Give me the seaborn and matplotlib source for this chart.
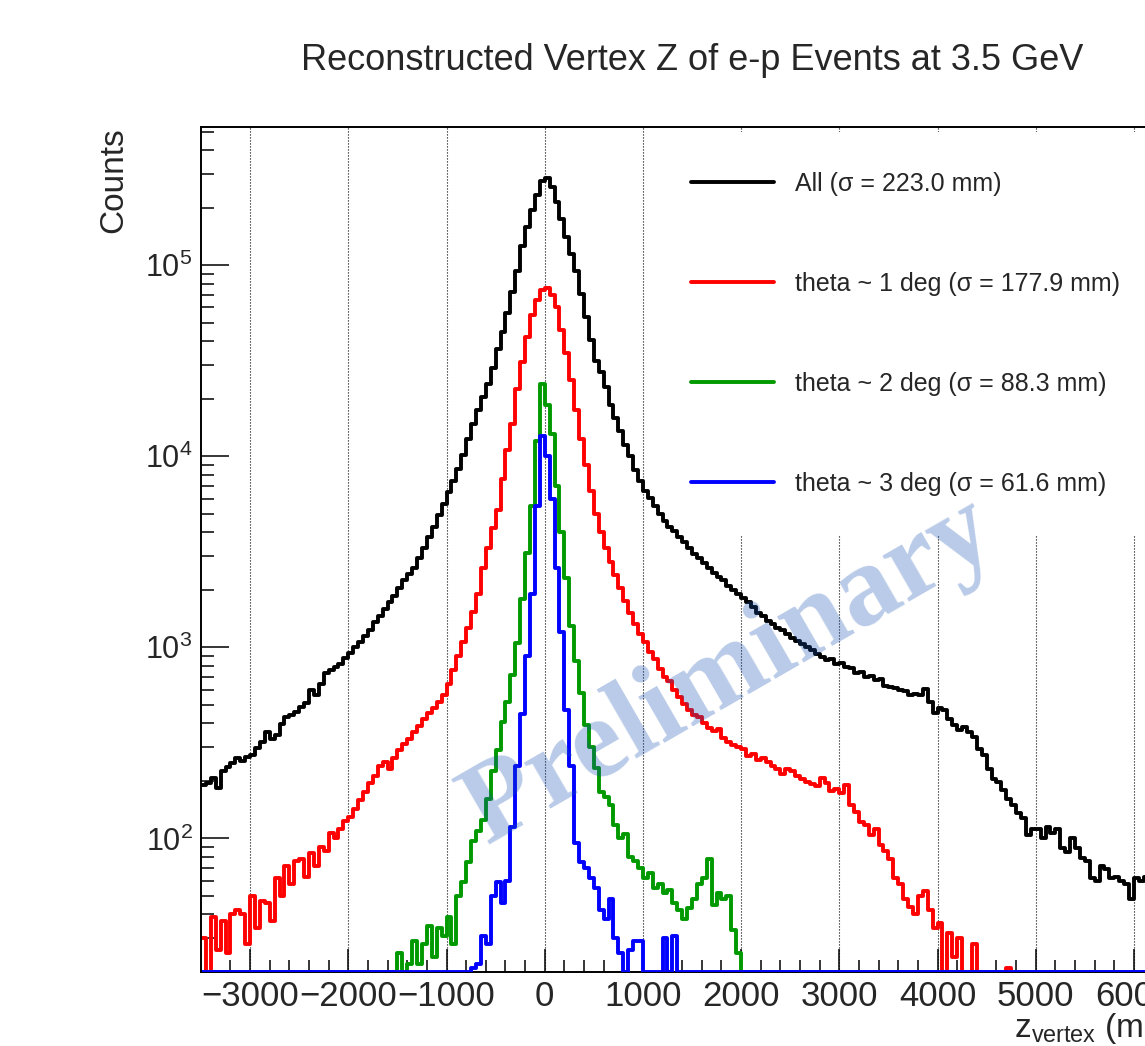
import numpy as np
import pandas as pd
import matplotlib
matplotlib.use('Agg')
import matplotlib.pyplot as plt
import seaborn as sns
from matplotlib.ticker import MultipleLocator, LogLocator, NullFormatter

# Binning of the z_vertex histograms (mm)
x_min, x_max, bin_width = -3500, 6500, 50
y_min, y_max = 20, 5.28e5

labels = ['All (σ = 223.0 mm)', 'theta ~ 1 deg (σ = 177.9 mm)',
          'theta ~ 2 deg (σ = 88.3 mm)', 'theta ~ 3 deg (σ = 61.6 mm)']
colors = ['#000000', '#ff0000', '#009900', '#0000ff']

# Counts per 50 mm bin (one row = 500 mm)
all_start = -3500
all_counts = [
    190, 196, 206, 184, 226, 236, 248, 262, 255, 268,
    272, 298, 318, 362, 330, 348, 398, 434, 442, 458,
    488, 514, 600, 562, 640, 738, 758, 790, 820, 880,
    930, 1000, 1070, 1150, 1230, 1350, 1460, 1585, 1720, 1860,
    2040, 2240, 2430, 2600, 2950, 3310, 3760, 4270, 4900, 5620,
    6460, 7410, 8600, 10200, 12300, 14800, 17400, 20400, 24000, 28800,
    36300, 44700, 56200, 72400, 93300, 126000, 158000, 195000, 234000, 275000,
    285000, 257000, 214000, 174000, 141000, 115000, 93300, 70800, 53700, 40700,
    31600, 27500, 22900, 18600, 15800, 13500, 11500, 10000, 8510, 7410,
    6610, 6030, 5500, 5010, 4570, 4270, 4070, 3800, 3550, 3310,
    3090, 2950, 2750, 2600, 2450, 2340, 2240, 2090, 2000, 1900,
    1820, 1720, 1620, 1510, 1450, 1380, 1320, 1260, 1230, 1175,
    1120, 1080, 1040, 1000, 968, 925, 895, 862, 870, 822,
    830, 790, 780, 735, 745, 700, 705, 672, 680, 630,
    620, 612, 598, 592, 566, 570, 560, 605, 520, 455,
    480, 470, 420, 392, 370, 382, 360, 340, 292, 272,
    232, 205, 198, 180, 160, 150, 136, 128, 104, 112,
    112, 100, 115, 107, 112, 89, 85, 100, 89, 79,
    76, 62, 60, 72, 69, 62, 63, 60, 58, 48,
    62, 60, 63, 58,
]

theta1_start = -3500
theta1_counts = [
    30, 18, 39, 26, 37, 25, 40, 42, 40, 28,
    50, 34, 47, 46, 37, 62, 50, 72, 58, 76,
    78, 63, 84, 72, 90, 86, 107, 100, 112, 123,
    130, 142, 158, 175, 195, 212, 240, 252, 232, 262,
    290, 311, 330, 360, 386, 420, 455, 480, 520, 562,
    640, 760, 900, 1060, 1260, 1530, 1900, 2600, 3300, 4200,
    5200, 7600, 10800, 14800, 22500, 31000, 42000, 55000, 65500, 74000,
    75500, 70000, 60000, 46000, 34500, 25000, 17500, 12300, 9000, 6600,
    5000, 4000, 3300, 2800, 2400, 2050, 1750, 1520, 1330, 1180,
    1070, 950, 870, 770, 700, 665, 600, 550, 505, 468,
    445, 430, 400, 380, 365, 372, 335, 318, 310, 302,
    295, 270, 278, 258, 262, 250, 238, 232, 218, 230,
    225, 212, 204, 198, 192, 188, 206, 196, 178, 182,
    172, 190, 150, 138, 122, 118, 104, 112, 92, 86,
    78, 62, 58, 48, 44, 40, 50, 53, 42, 34,
    36, 0, 32, 24, 30, 20, 0, 28, 0, 0,
    0, 0, 0, 0, 21,
]

theta2_start = -1500
theta2_counts = [
    25, 0, 22, 29, 22, 28, 35, 24, 34, 31,
    39, 28, 50, 59, 75, 97, 110, 125, 160, 225,
    290, 405, 520, 720, 1050, 1800, 3100, 5500, 12000, 23800,
    18500, 13000, 7000, 4000, 2300, 1300, 850, 580, 390, 300,
    235, 175, 165, 150, 118, 100, 105, 80, 76, 70,
    62, 66, 55, 58, 52, 54, 46, 42, 38, 43,
    48, 58, 62, 78, 45, 52, 48, 50, 33, 25,
]

theta3_start = -750
theta3_counts = [
    21, 22, 31, 28, 50, 59, 46, 60, 115, 240,
    450, 900, 1900, 5500, 12800,
    10000, 6000, 2600, 1200, 470, 240, 95, 75, 70, 62,
    55, 42, 38, 48, 30, 25, 0, 26, 29, 29,
    0, 0, 0, 0, 30, 0, 31,
]

n_bins = (x_max - x_min) // bin_width
centers = x_min + bin_width * (np.arange(n_bins) + 0.5)


def full_range(start, counts):
    # put the counts on the common binning, empty bins elsewhere
    h = np.zeros(n_bins)
    i0 = (start - x_min) // bin_width
    h[i0:i0 + len(counts)] = counts
    return h


series = [(all_start, all_counts), (theta1_start, theta1_counts),
          (theta2_start, theta2_counts), (theta3_start, theta3_counts)]

sns.set_style('ticks')
plt.rcParams['font.family'] = ['Liberation Sans', 'DejaVu Sans']
plt.rcParams['mathtext.fontset'] = 'custom'
plt.rcParams['mathtext.rm'] = 'Liberation Sans'

fig = plt.figure(figsize=(11.45, 10.46), dpi=100)
ax = fig.add_axes([201 / 1145, 74 / 1046, 982 / 1145, 845 / 1046])

for (start, counts), color, label in zip(series, colors, labels):
    h = full_range(start, counts)
    # empty bins sit on the bottom of the frame, like ROOT does on log scale
    df = pd.DataFrame({'z': centers, 'w': np.clip(h, y_min, None)})
    sns.histplot(data=df, x='z', weights='w', bins=n_bins, binrange=(x_min, x_max),
                 element='step', fill=False, color=color, linewidth=2.8,
                 label=label, ax=ax)

ax.set_yscale('log')
ax.set_xlim(x_min, x_max)
ax.set_ylim(y_min, y_max)

ax.xaxis.set_major_locator(MultipleLocator(1000))
ax.xaxis.set_minor_locator(MultipleLocator(200))
ax.yaxis.set_major_locator(LogLocator(base=10))
ax.yaxis.set_minor_locator(LogLocator(base=10, subs=np.arange(2, 10)))
ax.yaxis.set_minor_formatter(NullFormatter())

ax.tick_params(axis='both', which='both', direction='in', top=False, right=False,
               width=1.1, color='black')
ax.tick_params(axis='x', which='major', length=16.5, labelsize=25, pad=6)
ax.tick_params(axis='x', which='minor', length=8.6)
ax.tick_params(axis='y', which='major', length=20, labelsize=22, pad=6)
ax.tick_params(axis='y', which='minor', length=9.4)
for sp in ax.spines.values():
    sp.set_linewidth(1.4)
    sp.set_color('black')
# the empty-bin line of the last histogram shows on the bottom edge
ax.spines['bottom'].set_zorder(1)

ax.set_axisbelow(True)
ax.grid(axis='x', which='major', color='black', linestyle=(0, (1, 1.7)), linewidth=0.8)
ax.grid(axis='y', visible=False)

ax.set_title('Reconstructed Vertex Z of e-p Events at 3.5 GeV', fontsize=26, pad=41)
ax.set_xlabel('z$_{\\mathregular{vertex}}$ (mm)', fontsize=24, loc='right')
ax.xaxis.set_label_coords(1.0, -0.0465)
ax.set_ylabel('Counts', fontsize=24, loc='top')
ax.yaxis.set_label_coords(-0.0733, 1.0)

leg = ax.legend(loc='center left', bbox_to_anchor=(0.4582, 0.755), borderaxespad=0,
                frameon=True, facecolor='white', edgecolor='none', framealpha=1,
                fancybox=False, fontsize=18, handlelength=3.33, handletextpad=0.82,
                labelspacing=3.04, borderpad=1.6)
leg.set_zorder(1.5)  # hides the grid but not the histograms

fig.text(730 / 1145, 1 - 672 / 1046, 'Preliminary', ha='center', va='center',
         rotation=30, fontsize=83, family='Liberation Serif', fontweight='bold',
         color=(22 / 255, 82 / 255, 178 / 255), alpha=0.3, zorder=10)

fig.savefig('out.png', dpi=100)
